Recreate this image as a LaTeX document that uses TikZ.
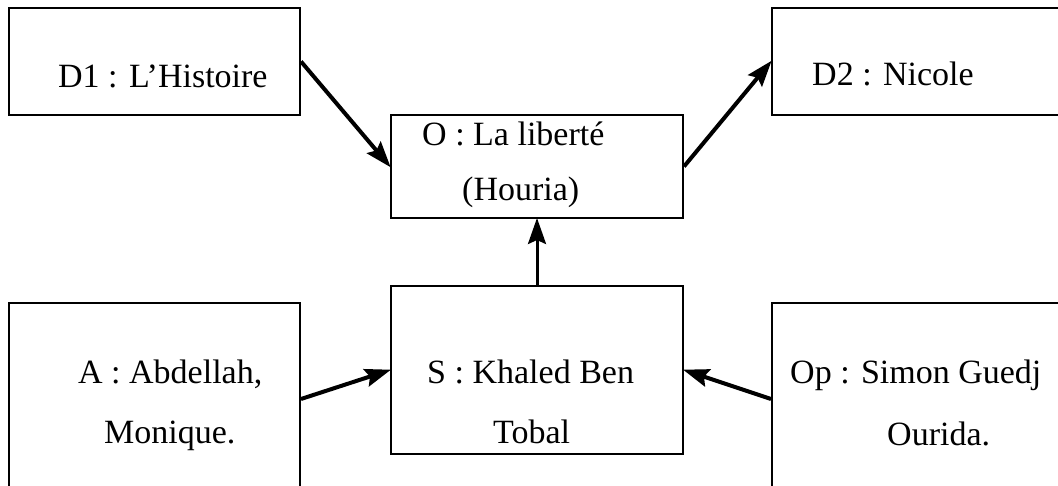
\documentclass[tikz,border=0pt]{standalone}
\usepackage{fontspec}
\setmainfont{Liberation Serif}
\usetikzlibrary{arrows.meta}
\begin{document}
\begin{tikzpicture}[x=1pt,y=-1pt,
  box/.style={draw,line width=2pt,inner sep=0pt},
  lbl/.style={anchor=base west,inner sep=0pt,font=\fontsize{34}{40}\selectfont},
  conn/.style={line width=4pt,-{Stealth[length=26pt 0,width=18pt 0,inset=4pt 0]},shorten >=-1pt}]
\useasboundingbox[fill=white] (0,0) rectangle (1058,485);
% boxes
\node[box,minimum width=291pt,minimum height=107pt] (D1) at (154.5,61.5) {};
\node[box,minimum width=298pt,minimum height=107pt] (D2) at (921,61.5) {};
\node[box,minimum width=292pt,minimum height=103pt] (O) at (537,166.5) {};
\node[box,minimum width=292pt,minimum height=168pt] (S) at (537,370) {};
\node[box,minimum width=291pt,minimum height=192pt] (A) at (154.5,399) {};
\node[box,minimum width=298pt,minimum height=192pt] (Op) at (921,399) {};
% texts
\node[lbl] (tD1) at (58,87) {D1 : L’Histoire};
\node[lbl] (tD2) at (812,85) {D2 : Nicole};
\node[lbl] (tO1) at (422,145) {O : La liberté};
\node[lbl] (tO2) at (462,200) {(Houria)};
\node[lbl] (tA1) at (78,383) {A : Abdellah,};
\node[lbl] (tA2) at (104,443) {Monique.};
\node[lbl] (tS1) at (427,383) {S : Khaled Ben};
\node[lbl] (tS2) at (493,443) {Tobal};
\node[lbl] (tOp1) at (790,383) {Op : Simon Guedj};
\node[lbl] (tOp2) at (887,445) {Ourida.};
% connectors
\draw[conn] (D1.east) -- (O.west);
\draw[conn] (O.east) -- (D2.west);
\draw[conn,line width=3pt] (S.north) -- (O.south);
\draw[conn] (A.east) -- (S.west);
\draw[conn] (Op.west) -- (S.east);
\end{tikzpicture}
\end{document}
